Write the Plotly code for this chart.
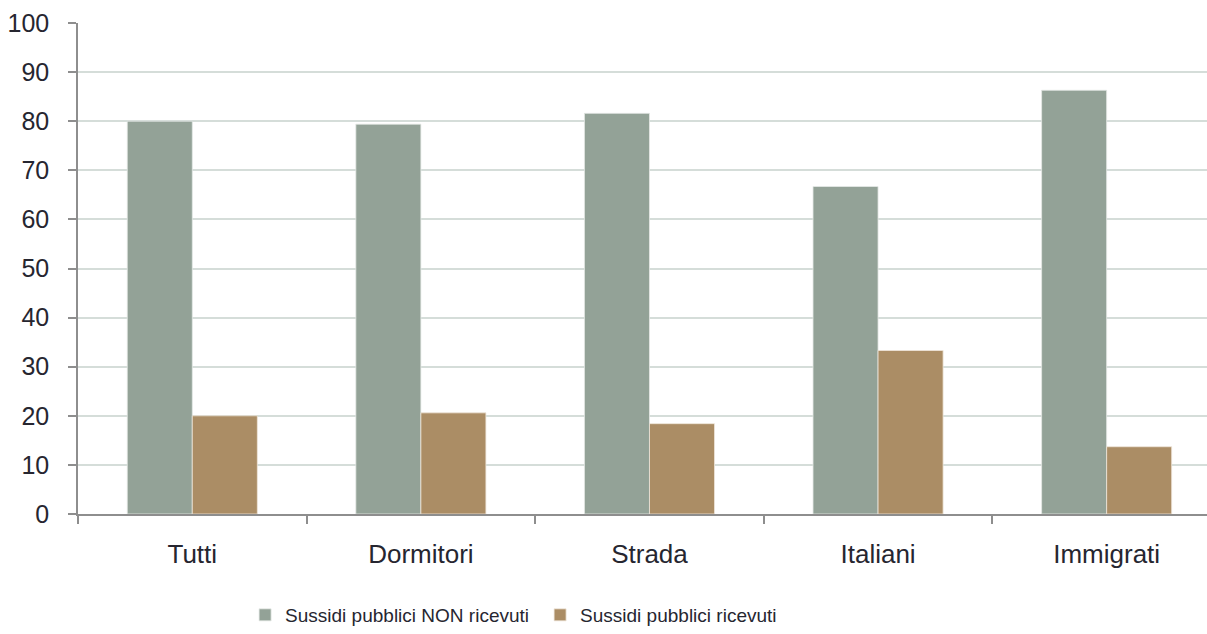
import plotly.graph_objects as go

# Sussidi pubblici: quota di chi li ha ricevuti / non ricevuti, per gruppo
categorie = ["Tutti", "Dormitori", "Strada", "Italiani", "Immigrati"]
non_ricevuti = [80.0, 79.4, 81.6, 66.7, 86.3]
ricevuti = [20.0, 20.6, 18.4, 33.3, 13.7]
y_ticks = [0, 10, 20, 30, 40, 50, 60, 70, 80, 90, 100]

VERDE = "#93A297"
MARRONE = "#AB8D65"
TESTO = "#262630"
ASSE = "#8E8E8E"
GRIGLIA = "#D5DDD9"

fig = go.Figure()
fig.add_trace(go.Bar(
    x=categorie, y=non_ricevuti, name="Sussidi pubblici NON ricevuti",
    marker=dict(color=VERDE, line=dict(color="#E4E9E6", width=0.8)),
))
fig.add_trace(go.Bar(
    x=categorie, y=ricevuti, name="Sussidi pubblici ricevuti",
    marker=dict(color=MARRONE, line=dict(color="#EFE6DA", width=0.8)),
))

fig.update_layout(
    width=1207, height=634,
    margin=dict(l=78, r=0, t=23, b=120, autoexpand=False),
    plot_bgcolor="white", paper_bgcolor="white",
    barmode="group", bargap=0.431, bargroupgap=0,
    font=dict(family="Liberation Sans, Arial, sans-serif", color=TESTO),
    showlegend=True,
    legend=dict(
        orientation="h", x=0.148, xanchor="left",
        yref="container", y=0.03, yanchor="middle",
        font=dict(family="Liberation Sans, Arial", size=19, color=TESTO),
        entrywidth=250, entrywidthmode="pixels",
        itemwidth=30, traceorder="normal",
    ),
    xaxis=dict(
        type="category", range=[-0.5, 4.439], automargin=False,
        showline=True, linecolor=ASSE, linewidth=1.5,
        ticks="outside", tickson="boundaries", ticklen=8, tickcolor=ASSE, tickwidth=1.5,
        tickfont=dict(size=26, color=TESTO),
        ticklabelstandoff=16,
        showgrid=False,
    ),
    yaxis=dict(
        range=[0, 100], tickvals=y_ticks, automargin=False,
        showline=True, linecolor=ASSE, linewidth=1.5,
        ticks="outside", ticklen=8, tickcolor=ASSE, tickwidth=1.5,
        tickfont=dict(size=25, color=TESTO),
        ticklabelstandoff=14,
        showgrid=True, gridcolor=GRIGLIA, gridwidth=2,
        zeroline=False,
    ),
)

fig.write_html("out.html")
